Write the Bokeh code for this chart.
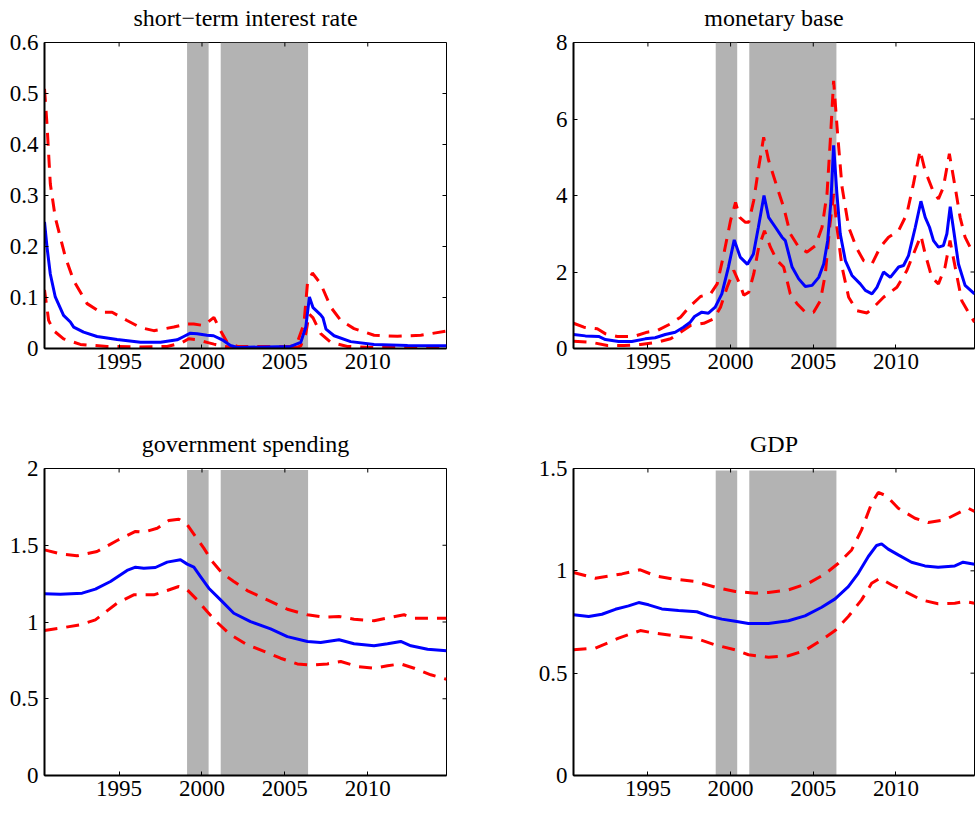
import math
from bokeh.plotting import figure
from bokeh.models import Range1d, FixedTicker, LinearAxis
from bokeh.layouts import column, row
from bokeh.embed import file_html
from bokeh.resources import INLINE

# ---------------- data ----------------
X_START, X_END = 1990.5, 2014.75
X_TICKS = [1995, 2000, 2005, 2010]
X_LABELS = ["1995", "2000", "2005", "2010"]

SHADE_START = [1999.1, 2001.13]
SHADE_END = [2000.4, 2006.4]

TITLES = ["short\u2212term interest rate", "monetary base", "government spending", "GDP"]

# short-term interest rate
rate_ticks = [0, 0.1, 0.2, 0.3, 0.4, 0.5, 0.6]
rate_labels = ["0", "0.1", "0.2", "0.3", "0.4", "0.5", "0.6"]
rate_med = [(1990.5, 0.248), (1990.65, 0.199), (1990.85, 0.146), (1991.15, 0.101), (1991.65, 0.065),
            (1992.06, 0.052), (1992.26, 0.042), (1992.86, 0.032), (1993.67, 0.0235), (1994.88, 0.0176),
            (1996.29, 0.0124), (1997.5, 0.0124), (1998.5, 0.017), (1998.9, 0.0235), (1999.3, 0.030),
            (1999.71, 0.029), (2000.3, 0.026), (2000.7, 0.025), (2001.22, 0.017), (2001.72, 0.006),
            (2002.13, 0.002), (2005.35, 0.004), (2005.96, 0.012), (2006.26, 0.042), (2006.48, 0.101),
            (2006.7, 0.08), (2007.16, 0.066), (2007.3, 0.06), (2007.48, 0.038), (2007.97, 0.025),
            (2008.97, 0.0135), (2010.38, 0.0078), (2012.4, 0.0059), (2014.75, 0.0055)]
rate_hi = [(1990.5, 0.509), (1990.65, 0.44), (1990.85, 0.323), (1991.15, 0.257), (1991.76, 0.179),
           (1992.26, 0.133), (1993.07, 0.088), (1993.87, 0.071), (1994.58, 0.071), (1995.48, 0.055),
           (1996.29, 0.041), (1997.09, 0.035), (1998.3, 0.042), (1999.1, 0.048), (1999.5, 0.048),
           (2000.1, 0.045), (2000.72, 0.061), (2001.12, 0.035), (2001.52, 0.012), (2002.13, 0.004),
           (2005.35, 0.004), (2005.75, 0.012), (2006.15, 0.048), (2006.36, 0.127), (2006.66, 0.148),
           (2007.16, 0.127), (2007.77, 0.081), (2008.37, 0.055), (2009.17, 0.039), (2010.38, 0.026),
           (2011.79, 0.024), (2013.2, 0.026), (2014.75, 0.034)]
rate_lo = [(1990.5, 0.115), (1990.75, 0.055), (1991.05, 0.035), (1991.65, 0.019), (1992.66, 0.008),
           (1994.27, 0.004), (1996.29, 0.003), (1997.9, 0.004), (1998.7, 0.010), (1999.2, 0.019),
           (1999.7, 0.017), (2000.3, 0.012), (2000.72, 0.0085), (2001.3, 0.004), (2001.9, 0.002),
           (2005.75, 0.002), (2005.96, 0.005), (2006.26, 0.029), (2006.46, 0.068), (2006.7, 0.06),
           (2007.16, 0.029), (2007.77, 0.012), (2008.77, 0.004), (2010.5, 0.002), (2014.75, 0.002)]

# monetary base
mb_ticks = [0, 2, 4, 6, 8]
mb_labels = ["0", "2", "4", "6", "8"]
mb_med = [(1990.5, 0.366), (1991.22, 0.33), (1992.02, 0.314), (1992.43, 0.235), (1993.23, 0.183),
          (1994.03, 0.183), (1994.84, 0.252), (1995.44, 0.28), (1996.05, 0.366), (1996.65, 0.427),
          (1997.15, 0.557), (1997.56, 0.688), (1997.82, 0.837), (1998.26, 0.95), (1998.66, 0.924),
          (1999.07, 1.08), (1999.47, 1.43), (1999.87, 2.13), (2000.22, 2.84), (2000.58, 2.39),
          (2001.02, 2.2), (2001.38, 2.47), (2001.68, 3.17), (2002.02, 4.0), (2002.3, 3.43),
          (2002.71, 3.17), (2003.11, 2.91), (2003.31, 2.82), (2003.72, 2.13), (2004.12, 1.82),
          (2004.52, 1.62), (2004.93, 1.65), (2005.33, 1.86), (2005.63, 2.21), (2005.87, 2.82),
          (2006.07, 3.87), (2006.23, 5.31), (2006.43, 4.04), (2006.63, 3.0), (2006.94, 2.3),
          (2007.34, 1.91), (2007.84, 1.69), (2008.15, 1.52), (2008.55, 1.43), (2008.85, 1.6),
          (2009.25, 2.0), (2009.66, 1.86), (2010.16, 2.13), (2010.46, 2.17), (2010.76, 2.43),
          (2011.17, 3.17), (2011.51, 3.85), (2011.77, 3.43), (2012.03, 3.17), (2012.27, 2.82),
          (2012.57, 2.65), (2012.87, 2.69), (2013.08, 3.0), (2013.28, 3.71), (2013.52, 3.0),
          (2013.78, 2.21), (2014.18, 1.65), (2014.75, 1.43)]
mb_hi = [(1990.5, 0.66), (1991.13, 0.557), (1991.94, 0.514), (1992.44, 0.383), (1993.15, 0.314),
         (1994.15, 0.314), (1994.96, 0.427), (1995.57, 0.47), (1996.37, 0.645), (1996.97, 0.82),
         (1997.58, 1.12), (1998.18, 1.36), (1998.79, 1.43), (1999.19, 1.69), (1999.59, 2.47),
         (2000.0, 3.35), (2000.3, 3.82), (2000.55, 3.43), (2000.9, 3.3), (2001.1, 3.3),
         (2001.4, 3.87), (2001.7, 4.74), (2002.0, 5.52), (2002.3, 4.92), (2002.81, 4.22),
         (2003.21, 3.69), (2003.61, 3.0), (2004.12, 2.65), (2004.62, 2.52), (2005.13, 2.69),
         (2005.53, 3.17), (2005.83, 4.04), (2006.03, 5.44), (2006.23, 7.0), (2006.47, 5.61),
         (2006.74, 4.22), (2007.14, 3.17), (2007.64, 2.61), (2008.04, 2.3), (2008.55, 2.21),
         (2009.05, 2.65), (2009.55, 2.91), (2010.16, 3.08), (2010.66, 3.52), (2011.06, 4.31),
         (2011.46, 5.18), (2011.76, 4.65), (2012.27, 4.09), (2012.57, 3.91), (2012.87, 4.22),
         (2013.23, 5.09), (2013.58, 4.22), (2013.88, 3.43), (2014.18, 2.91), (2014.48, 2.65),
         (2014.75, 2.69)]
mb_lo = [(1990.5, 0.19), (1991.54, 0.165), (1992.55, 0.078), (1993.55, 0.078), (1994.56, 0.105),
         (1995.57, 0.165), (1996.37, 0.253), (1996.97, 0.427), (1997.58, 0.6), (1998.38, 0.66),
         (1998.98, 0.775), (1999.39, 1.08), (1999.79, 1.6), (2000.19, 2.04), (2000.55, 1.69),
         (2000.8, 1.39), (2001.1, 1.47), (2001.4, 1.95), (2001.7, 2.65), (2002.05, 3.08),
         (2002.41, 2.65), (2002.81, 2.3), (2003.21, 2.13), (2003.61, 1.43), (2004.02, 1.17),
         (2004.52, 0.95), (2005.02, 0.95), (2005.43, 1.25), (2005.73, 1.95), (2005.99, 3.17),
         (2006.23, 4.04), (2006.43, 3.17), (2006.74, 2.13), (2007.14, 1.34), (2007.64, 0.99),
         (2008.25, 0.93), (2008.65, 1.08), (2009.25, 1.34), (2010.06, 1.6), (2010.66, 2.04),
         (2011.06, 2.47), (2011.51, 2.95), (2011.77, 2.47), (2012.17, 1.86), (2012.57, 1.69),
         (2012.97, 2.13), (2013.27, 2.82), (2013.58, 2.13), (2013.98, 1.25), (2014.38, 0.95),
         (2014.75, 0.69)]

# government spending
gs_ticks = [0, 0.5, 1, 1.5, 2]
gs_labels = ["0", "0.5", "1", "1.5", "2"]
gs_med = [(1990.5, 1.184), (1991.45, 1.181), (1992.77, 1.188), (1993.57, 1.214), (1994.48, 1.264),
          (1995.48, 1.336), (1995.99, 1.357), (1996.49, 1.35), (1997.19, 1.355), (1997.9, 1.39),
          (1998.7, 1.405), (1999.11, 1.377), (1999.51, 1.357), (1999.91, 1.296), (2000.41, 1.22),
          (2001.12, 1.144), (2001.92, 1.057), (2002.93, 1.003), (2004.14, 0.955), (2005.15, 0.905),
          (2006.36, 0.873), (2007.16, 0.866), (2008.27, 0.884), (2009.17, 0.858), (2010.38, 0.845),
          (2011.19, 0.858), (2011.99, 0.873), (2012.6, 0.845), (2013.61, 0.823), (2014.75, 0.812)]
gs_hi = [(1990.5, 1.47), (1991.45, 1.444), (1992.46, 1.431), (1993.67, 1.459), (1994.88, 1.531),
         (1995.99, 1.59), (1996.49, 1.585), (1997.3, 1.611), (1998.0, 1.661), (1998.6, 1.67),
         (1999.11, 1.633), (1999.61, 1.557), (2000.11, 1.481), (2000.62, 1.394), (2001.22, 1.318),
         (2001.92, 1.264), (2002.73, 1.205), (2003.94, 1.144), (2005.15, 1.083), (2006.36, 1.047),
         (2007.36, 1.031), (2008.27, 1.036), (2009.17, 1.018), (2010.38, 1.008), (2011.39, 1.031),
         (2012.19, 1.047), (2012.8, 1.025), (2013.8, 1.025), (2014.75, 1.025)]
gs_lo = [(1990.5, 0.945), (1991.45, 0.96), (1992.66, 0.982), (1993.57, 1.014), (1994.88, 1.123),
         (1995.88, 1.177), (1997.09, 1.177), (1997.9, 1.205), (1998.6, 1.231), (1999.11, 1.21),
         (1999.71, 1.144), (2000.31, 1.068), (2000.92, 0.997), (2001.72, 0.917), (2002.73, 0.851),
         (2003.94, 0.801), (2004.74, 0.764), (2005.75, 0.727), (2006.56, 0.719), (2007.56, 0.727),
         (2008.37, 0.743), (2009.38, 0.71), (2010.38, 0.699), (2011.19, 0.715), (2011.99, 0.727),
         (2012.8, 0.699), (2013.8, 0.656), (2014.75, 0.627)]

# GDP
gdp_ticks = [0, 0.5, 1, 1.5]
gdp_labels = ["0", "0.5", "1", "1.5"]
gdp_med = [(1990.5, 0.785), (1991.42, 0.777), (1992.22, 0.788), (1993.03, 0.812), (1993.83, 0.829),
           (1994.44, 0.845), (1995.04, 0.834), (1995.84, 0.814), (1996.85, 0.806), (1997.96, 0.8),
           (1998.66, 0.78), (1999.47, 0.764), (2000.28, 0.754), (2001.08, 0.743), (2002.29, 0.743),
           (2003.5, 0.756), (2004.5, 0.78), (2005.51, 0.822), (2006.32, 0.863), (2007.12, 0.923),
           (2007.72, 0.988), (2008.33, 1.07), (2008.83, 1.124), (2009.13, 1.132), (2009.53, 1.106),
           (2010.14, 1.078), (2010.94, 1.042), (2011.75, 1.024), (2012.55, 1.018), (2013.56, 1.024),
           (2014.06, 1.042), (2014.75, 1.032)]
gdp_hi = [(1990.5, 0.992), (1991.82, 0.964), (1993.43, 0.985), (1994.54, 1.005), (1995.44, 0.976),
          (1996.45, 0.961), (1997.86, 0.948), (1999.07, 0.92), (2000.28, 0.899), (2001.48, 0.891),
          (2002.29, 0.894), (2003.5, 0.907), (2004.7, 0.939), (2005.71, 0.985), (2006.52, 1.037),
          (2007.32, 1.102), (2007.92, 1.2), (2008.53, 1.33), (2008.93, 1.383), (2009.43, 1.366),
          (2010.14, 1.306), (2011.15, 1.257), (2011.95, 1.236), (2012.96, 1.249), (2013.96, 1.29),
          (2014.37, 1.306), (2014.75, 1.29)]
gdp_lo = [(1990.5, 0.614), (1991.82, 0.622), (1993.23, 0.671), (1994.54, 0.708), (1995.44, 0.695),
          (1996.65, 0.682), (1997.86, 0.671), (1999.07, 0.638), (2000.28, 0.614), (2001.08, 0.59),
          (2002.29, 0.578), (2003.5, 0.585), (2004.5, 0.611), (2005.51, 0.663), (2006.32, 0.708),
          (2007.12, 0.777), (2007.92, 0.858), (2008.53, 0.939), (2009.03, 0.964), (2009.73, 0.932),
          (2010.54, 0.899), (2011.54, 0.858), (2012.55, 0.839), (2013.56, 0.842), (2014.16, 0.85),
          (2014.75, 0.842)]

SHADE_TOPS = [0.6, 8, 1.99, 1.49]
Y_MAX = [0.6, 8, 2, 1.5]

# ---------------- styling ----------------
FONT = "Liberation Serif"
FS = "23px"
TITLE_FS = "24px"
BLUE = "#0000ff"
RED = "#ff0000"
GRAY = "#b3b3b3"


def style_axis(ax, ticks, labels, standoff):
    ax.ticker = FixedTicker(ticks=ticks)
    ax.major_label_overrides = {t: l for t, l in zip(ticks, labels)}
    ax.major_tick_in = 4
    ax.major_tick_out = 0
    ax.major_tick_line_color = "black"
    ax.major_tick_line_width = 1
    ax.minor_tick_line_color = None
    ax.axis_line_color = "black"
    ax.axis_line_width = 2
    ax.major_label_text_font = FONT
    ax.major_label_text_color = "black"
    ax.major_label_text_font_size = FS
    ax.major_label_standoff = standoff


def split(pairs):
    return [a for a, _ in pairs], [b for _, b in pairs]


def make_panel(i, yticks, ylabels, med, hi, lo, w, h, bl, br, bt, bb):
    p = figure(width=w, height=h, output_backend="svg", toolbar_location=None,
               x_range=Range1d(X_START, X_END), y_range=Range1d(0, Y_MAX[i]),
               min_border_left=bl, min_border_right=br, min_border_top=bt, min_border_bottom=bb,
               background_fill_color="white", border_fill_color="white")
    p.xgrid.visible = False
    p.ygrid.visible = False
    p.outline_line_color = "black"
    p.outline_line_width = 1

    p.quad(left=SHADE_START, right=SHADE_END, bottom=[0, 0],
           top=[SHADE_TOPS[i]] * len(SHADE_START), fill_color=GRAY, line_color=None)
    for band in (hi, lo):
        xs, ys = split(band)
        p.line(xs, ys, line_color=RED, line_width=3, line_dash="13 9")
    xs, ys = split(med)
    p.line(xs, ys, line_color=BLUE, line_width=3)

    # mirrored inward ticks on the top and right edges of the box
    p.scatter(x=X_TICKS, y=[Y_MAX[i]] * len(X_TICKS), marker="dash", size=8,
              angle=math.pi / 2, line_color="black", line_width=1)
    p.scatter(x=[X_END] * len(yticks), y=yticks, marker="dash", size=8,
              line_color="black", line_width=1)

    style_axis(p.xaxis[0], X_TICKS, X_LABELS, 5)
    style_axis(p.yaxis[0], yticks, ylabels, 6)

    # panel title: label of a tick-less axis above the box
    top = LinearAxis(ticker=FixedTicker(ticks=[]), axis_label=TITLES[i])
    top.axis_line_color = None
    top.major_tick_line_color = None
    top.minor_tick_line_color = None
    top.major_tick_out = 0
    top.major_tick_in = 0
    top.major_label_standoff = 0
    top.axis_label_standoff = 12
    top.axis_label_text_font = FONT
    top.axis_label_text_font_size = TITLE_FS
    top.axis_label_text_font_style = "normal"
    top.axis_label_text_color = "black"
    p.add_layout(top, "above")
    return p


p1 = make_panel(0, rate_ticks, rate_labels, rate_med, rate_hi, rate_lo, 490, 407, 44, 44, 42, 59)
p2 = make_panel(1, mb_ticks, mb_labels, mb_med, mb_hi, mb_lo, 490, 407, 83, 6, 42, 59)
p3 = make_panel(2, gs_ticks, gs_labels, gs_med, gs_hi, gs_lo, 490, 406, 44, 44, 61, 38)
p4 = make_panel(3, gdp_ticks, gdp_labels, gdp_med, gdp_hi, gdp_lo, 490, 406, 83, 6, 61, 38)

layout = column(row(p1, p2), row(p3, p4))

open("out.html", "w").write(file_html(layout, INLINE))
